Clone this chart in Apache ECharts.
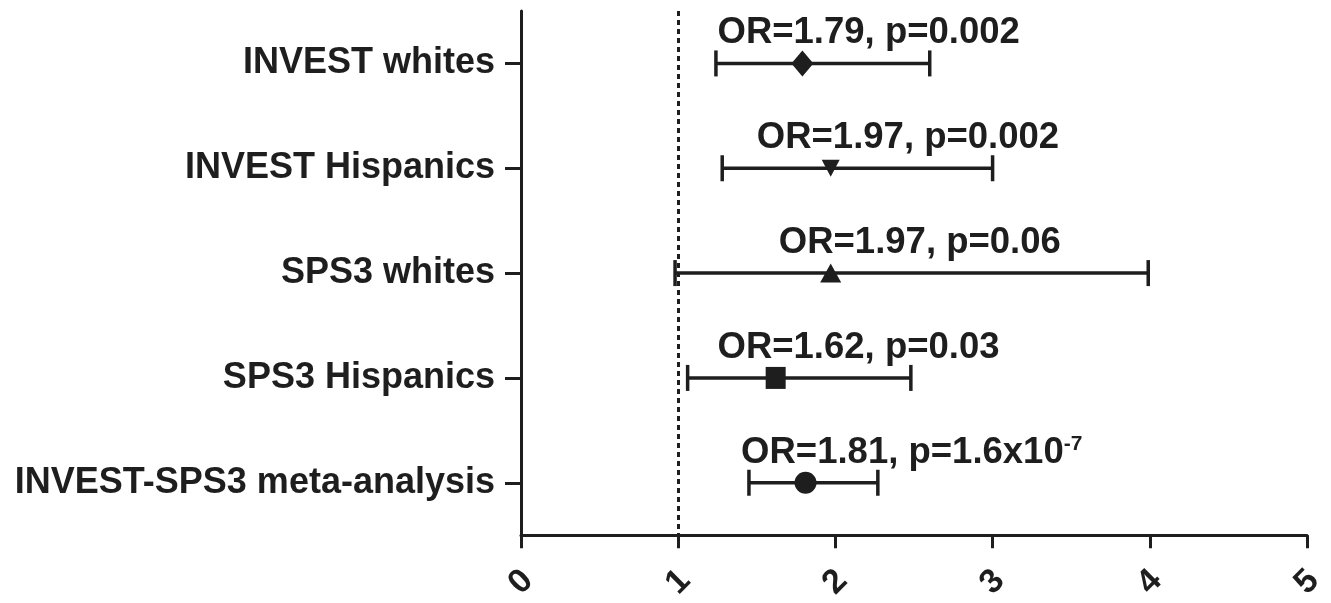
<!DOCTYPE html>
<html>
<head>
<meta charset="utf-8">
<script src="https://cdn.jsdelivr.net/npm/echarts@6/dist/echarts.min.js"></script>
<style>
html,body{margin:0;padding:0;background:#ffffff;}
#chart{width:1331px;height:603px;}
</style>
</head>
<body>
<div id="chart"></div>
<script>
// ---- data ----
const categories = ["INVEST whites", "INVEST Hispanics", "SPS3 whites", "SPS3 Hispanics", "INVEST-SPS3 meta-analysis"];
const oddsRatio = [1.79, 1.97, 1.97, 1.62, 1.81];
const ciLower = [1.24, 1.28, 0.98, 1.06, 1.45];
const ciUpper = [2.60, 3.00, 3.99, 2.48, 2.27];
const pValues = ["0.002", "0.002", "0.06", "0.03", "1.6x10"];
const pExponent = ["", "", "", "", "-7"];
const xTicks = [0, 1, 2, 3, 4, 5];
const referenceOR = 1;

// ---- presentation ----
const INK = '#1e1e1e';
const FONT = '"Liberation Sans", Arial, sans-serif';
const markerShapes = ['diamond', 'triangle', 'triangle', 'rect', 'circle'];
const markerRotate = [0, 180, 0, 0, 0];
const markerSizes = [[22, 26], [18, 17], [21, 19], [20, 22], [22, 22]];
const labelLeft = [1.25, 1.50, 1.64, 1.25, 1.40]; // annotation anchor (x in OR units)

const chart = echarts.init(document.getElementById('chart'), null, {renderer: 'canvas'});

const barData = categories.map((c, i) => [ciLower[i], i, ciUpper[i]]);
const pointData = categories.map((c, i) => ({
  value: [oddsRatio[i], i],
  symbol: markerShapes[i],
  symbolRotate: markerRotate[i],
  symbolSize: markerSizes[i]
}));
const labelData = categories.map((c, i) => [labelLeft[i], i]);

const option = {
  backgroundColor: '#ffffff',
  animation: false,
  grid: {left: 521, right: 24, top: 11, bottom: 63, containLabel: false},
  xAxis: {
    type: 'value', min: xTicks[0], max: xTicks[xTicks.length - 1], interval: 1,
    splitLine: {show: false},
    axisLine: {show: true, lineStyle: {color: INK, width: 3}},
    axisTick: {show: true, length: 13, lineStyle: {color: INK, width: 3}},
    axisLabel: {
      color: INK, fontFamily: FONT, fontSize: 34, fontWeight: 'bold',
      rotate: 45, align: 'center', verticalAlign: 'middle', margin: 47
    }
  },
  yAxis: {
    type: 'category', data: categories, inverse: true, boundaryGap: true,
    axisLine: {show: true, lineStyle: {color: INK, width: 3}},
    axisTick: {show: true, alignWithLabel: true, length: 16, lineStyle: {color: INK, width: 3}},
    axisLabel: {color: INK, fontFamily: FONT, fontSize: 36, fontWeight: 'bold', margin: 26},
    splitLine: {show: false}
  },
  series: [
    {
      type: 'custom',
      name: 'CI',
      data: barData,
      encode: {x: 0, y: 1},
      renderItem: function (params, api) {
        const yi = api.value(1);
        const p1 = api.coord([api.value(0), yi]);
        const p2 = api.coord([api.value(2), yi]);
        const h = 13;
        const st = {stroke: INK, lineWidth: 3.5, fill: null};
        return {
          type: 'group',
          children: [
            {type: 'line', shape: {x1: p1[0], y1: p1[1], x2: p2[0], y2: p2[1]}, style: st},
            {type: 'line', shape: {x1: p1[0], y1: p1[1] - h, x2: p1[0], y2: p1[1] + h}, style: st},
            {type: 'line', shape: {x1: p2[0], y1: p2[1] - h, x2: p2[0], y2: p2[1] + h}, style: st}
          ]
        };
      },
      z: 2
    },
    {
      type: 'scatter',
      name: 'OR',
      data: pointData,
      itemStyle: {color: INK, opacity: 1},
      markLine: {
        silent: true, symbol: 'none',
        label: {show: false},
        lineStyle: {color: INK, type: [5, 4], width: 3, opacity: 1},
        data: [{xAxis: referenceOR}]
      },
      z: 3
    },
    {
      type: 'custom',
      name: 'labels',
      data: labelData,
      encode: {x: 0, y: 1},
      renderItem: function (params, api) {
        const i = params.dataIndex;
        const p = api.coord([api.value(0), api.value(1)]);
        let txt = '{m|OR=' + oddsRatio[i].toFixed(2) + ', p=' + pValues[i] + '}';
        if (pExponent[i]) txt += '{s|' + pExponent[i] + '}';
        return {
          type: 'text',
          x: p[0], y: p[1] - 30,
          style: {
            text: txt,
            align: 'left', verticalAlign: 'middle',
            fill: INK,
            rich: {
              m: {fontFamily: FONT, fontSize: 36.5, fontWeight: 'bold', fill: INK},
              s: {fontFamily: FONT, fontSize: 21, fontWeight: 'bold', fill: INK, verticalAlign: 'top', padding: [0, 0, 18, 0]}
            }
          }
        };
      },
      z: 4
    }
  ]
};
chart.setOption(option);
</script>
</body>
</html>
